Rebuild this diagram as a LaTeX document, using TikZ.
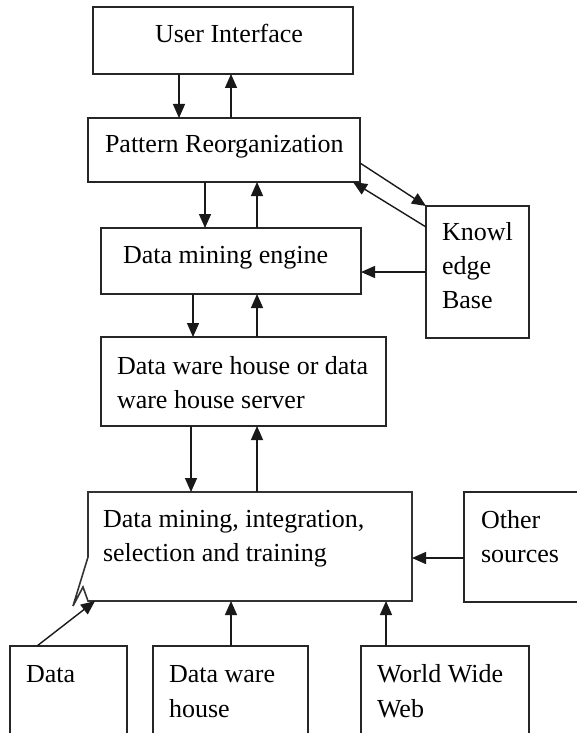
\documentclass[tikz,border=0pt]{standalone}
\usepackage{fontspec}
\setmainfont{Liberation Serif}
\usetikzlibrary{arrows.meta}
\begin{document}
\begin{tikzpicture}[x=1pt,y=-1pt,
  box/.style={draw=black!85, line width=1.4pt, rectangle, inner sep=0pt, outer sep=0pt},
  lbl/.style={anchor=base west, inner sep=0pt, outer sep=0pt, text=black,
              font=\fontsize{26}{34}\selectfont},
  arr/.style={line width=1.4pt, draw=black!90, -{Triangle[length=14pt,width=12pt]}}]
\useasboundingbox (0,0) rectangle (577,733);
\begin{scope}
\clip (0,0) rectangle (577,733);

% boxes
\node[box, minimum width=260pt, minimum height=67pt]  (ui)   at (223,40.5) {};
\node[box, minimum width=272pt, minimum height=64pt]  (pr)   at (224,150)  {};
\node[box, minimum width=103pt, minimum height=132pt] (kb)   at (477.5,272) {};
\node[box, minimum width=260pt, minimum height=66pt]  (dme)  at (231,261)  {};
\node[box, minimum width=285pt, minimum height=89pt]  (dwh)  at (243.5,381.5) {};
\node[minimum width=324pt, minimum height=109pt, inner sep=0pt, outer sep=0pt] (dmi) at (250,546.5) {};
\node[box, minimum width=140pt, minimum height=110pt] (oth)  at (534,547)  {};
\node[box, minimum width=117pt, minimum height=114pt] (data) at (68.5,703) {};
\node[box, minimum width=155pt, minimum height=114pt] (dwhs) at (230.5,703) {};
\node[box, minimum width=168pt, minimum height=114pt] (www)  at (445,703)  {};

% integration box with its notched left edge
\draw[draw=black!80, line width=1.6pt, line join=miter]
  (dmi.south west) -- (dmi.south east) -- (dmi.north east) -- (dmi.north west)
  -- ([yshift=-65pt]dmi.north west) -- ([xshift=-15pt,yshift=-5pt]dmi.south west)
  -- ([xshift=-5pt,yshift=14pt]dmi.south west) -- cycle;

% labels
\node[lbl] (tui)  at (155,43)  {User Interface};
\node[lbl] (tpr)  at (105,153) {Pattern Reorganization};
\node[lbl] (tkb1) at (442,240) {Knowl};
\node[lbl] (tkb2) at (442,274) {edge};
\node[lbl] (tkb3) at (442,308) {Base};
\node[lbl] (tdme) at (123,263) {Data mining engine};
\node[lbl] (tdw1) at (117,374) {Data ware house or data};
\node[lbl] (tdw2) at (117,408) {ware house server};
\node[lbl] (tdm1) at (103,527) {Data mining, integration,};
\node[lbl] (tdm2) at (103,561) {selection and training};
\node[lbl] (tot1) at (481,528) {Other};
\node[lbl] (tot2) at (481,562) {sources};
\node[lbl] (tda)  at (26,682)  {Data};
\node[lbl] (tds1) at (169,682) {Data ware};
\node[lbl] (tds2) at (169,717) {house};
\node[lbl] (tww1) at (377,682) {World Wide};
\node[lbl] (tww2) at (377,717) {Web};

% x positions of the vertical links
\coordinate (xa) at (179,0);
\coordinate (xb) at (231,0);
\coordinate (xc) at (205,0);
\coordinate (xd) at (257,0);
\coordinate (xe) at (193,0);
\coordinate (xf) at (191,0);
\coordinate (xh) at (231,0);
\coordinate (xi) at (386,0);
% y positions of the horizontal links
\coordinate (ya) at (0,272);
\coordinate (yb) at (0,558);

% user interface <-> pattern reorganization
\draw[arr] (ui.south -| xa) -- (pr.north -| xa);
\draw[arr] (pr.north -| xb) -- (ui.south -| xb);
% pattern reorganization <-> mining engine
\draw[arr] (pr.south -| xc) -- (dme.north -| xc);
\draw[arr] (dme.north -| xd) -- (pr.south -| xd);
% mining engine <-> warehouse server
\draw[arr] (dme.south -| xe) -- (dwh.north -| xe);
\draw[arr] (dwh.north -| xd) -- (dme.south -| xd);
% warehouse server <-> integration
\draw[arr] (dwh.south -| xf) -- (dmi.north -| xf);
\draw[arr] (dmi.north -| xd) -- (dwh.south -| xd);
% knowledge base links
\draw[arr] ([yshift=-13pt]pr.east) -- (kb.north west);
\draw[arr] ([yshift=-21pt]kb.north west) -- ([xshift=-7pt]pr.south east);
\draw[arr] (kb.west |- ya) -- (dme.east |- ya);
% sources into integration
\draw[arr] (oth.west |- yb) -- (dmi.east |- yb);
\draw[arr] ([xshift=27pt]data.north west) -- ([xshift=7pt]dmi.south west);
\draw[arr] (dwhs.north -| xh) -- (dmi.south -| xh);
\draw[arr] (www.north -| xi) -- (dmi.south -| xi);
\end{scope}
\end{tikzpicture}
\end{document}
